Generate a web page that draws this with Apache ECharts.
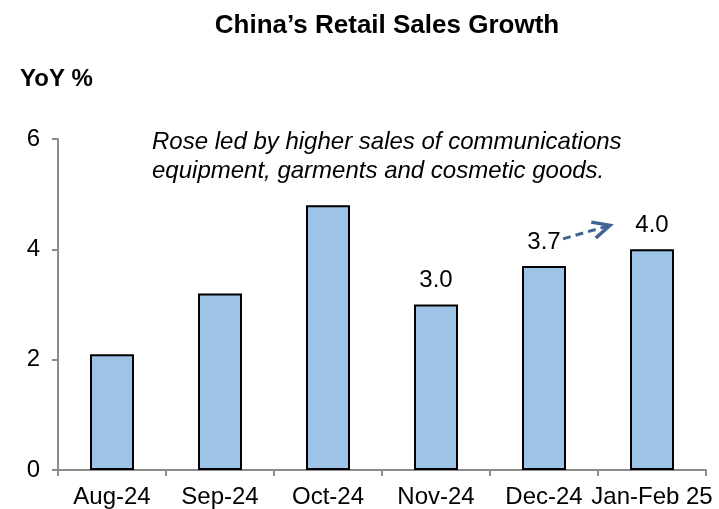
<!DOCTYPE html>
<html>
<head>
<meta charset="utf-8">
<script src="https://cdn.jsdelivr.net/npm/echarts@6/dist/echarts.min.js"></script>
<style>
  html, body { margin: 0; padding: 0; background: #fff; }
  #chart { width: 719px; height: 509px; }
</style>
</head>
<body>
<div id="chart"></div>
<script>
// Monthly retail sales growth, year over year
const categories = ['Aug-24', 'Sep-24', 'Oct-24', 'Nov-24', 'Dec-24', 'Jan-Feb 25'];
const growth = [2.1, 3.2, 4.8, 3.0, 3.7, 4.0];
// Only the latest three months carry a value label
const labelled = [false, false, false, true, true, true];
const yTicks = [0, 2, 4, 6];
const noteLines = ['Rose led by higher sales of communications', 'equipment, garments and cosmetic goods.'];

const FONT = '"Liberation Sans", Arial, sans-serif';
const chart = echarts.init(document.getElementById('chart'), null, { renderer: 'canvas' });

const option = {
  animation: false,
  backgroundColor: '#ffffff',
  title: {
    text: 'China\u2019s Retail Sales Growth',
    left: 382, top: 8, textAlign: 'center',
    textStyle: { fontFamily: FONT, fontSize: 26, fontWeight: 'bold', color: '#000' }
  },
  grid: { left: 58, right: 13, top: 139, bottom: 39, containLabel: false },
  xAxis: {
    type: 'category',
    data: categories,
    axisLine: { lineStyle: { color: '#8c8c8c', width: 2 } },
    axisTick: { show: true, length: 6, lineStyle: { color: '#8c8c8c', width: 2 } },
    axisLabel: { fontFamily: FONT, fontSize: 24, color: '#000', margin: 15, interval: 0 }
  },
  yAxis: {
    type: 'value',
    min: yTicks[0], max: yTicks[yTicks.length - 1], interval: 2,
    axisLine: { show: true, lineStyle: { color: '#8c8c8c', width: 2 } },
    axisTick: { show: true, length: 6, lineStyle: { color: '#8c8c8c', width: 2 } },
    splitLine: { show: false },
    axisLabel: { fontFamily: FONT, fontSize: 24, color: '#000', margin: 18 }
  },
  series: [{
    type: 'bar',
    data: growth.map((v, i) => ({
      value: v,
      label: { show: labelled[i] }
    })),
    barWidth: 44,
    itemStyle: { color: '#9dc3e6', borderColor: '#000', borderWidth: 2 },
    label: {
      position: 'top', distance: 12,
      fontFamily: FONT, fontSize: 24, color: '#000',
      formatter: p => p.value.toFixed(1)
    }
  }]
};
chart.setOption(option);

// Annotation note and the dashed arrow between the last two labels
function drawAnnotations() {
  const decTop = chart.convertToPixel({ seriesIndex: 0 }, [4, growth[4]]);
  const janTop = chart.convertToPixel({ seriesIndex: 0 }, [5, growth[5]]);
  const x1 = decTop[0] + 19, y1 = decTop[1] - 27;
  const x2 = janTop[0] - 42, y2 = janTop[1] - 24;
  const ang = Math.atan2(y2 - y1, x2 - x1);
  const hl = 19, spread = 0.45;
  const head = [
    [x2 - hl * Math.cos(ang - spread), y2 - hl * Math.sin(ang - spread)],
    [x2, y2],
    [x2 - hl * Math.cos(ang + spread), y2 - hl * Math.sin(ang + spread)]
  ];
  chart.setOption({
    graphic: [
      {
        type: 'text', left: 20, top: 67,
        style: { text: 'YoY %', fontFamily: FONT, fontSize: 24, fontWeight: 'bold', fill: '#000' }
      },
      {
        type: 'text', left: 152, top: 128,
        style: {
          text: noteLines.join('\n'), fontFamily: FONT, fontSize: 24, fontStyle: 'italic',
          fill: '#000', lineHeight: 29
        }
      },
      {
        type: 'line',
        shape: { x1: x1, y1: y1, x2: x2 - 3 * Math.cos(ang), y2: y2 - 3 * Math.sin(ang) },
        style: { stroke: '#3f6493', lineWidth: 3, lineDash: [8, 5] }
      },
      {
        type: 'polyline',
        shape: { points: head },
        style: { stroke: '#3f6493', lineWidth: 3.5, fill: null, lineJoin: 'miter' }
      }
    ]
  });
}
drawAnnotations();
</script>
</body>
</html>
